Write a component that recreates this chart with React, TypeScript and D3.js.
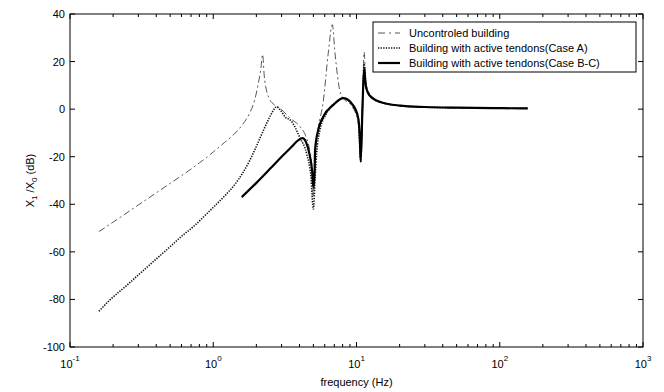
import React from "react";
import * as d3 from "d3";

const xTickExps = [-1, 0, 1, 2, 3];
const yTicks = [40, 20, 0, -20, -40, -60, -80, -100];
const legendLabels = [
  "Uncontroled building",
  "Building with active tendons(Case A)",
  "Building with active tendons(Case B-C)",
];

const uncontrolledFreq = [0.159, 0.2, 0.3, 0.4, 0.5, 0.6, 0.7, 0.8, 0.9, 1.0, 1.2, 1.4, 1.6, 1.8, 1.95, 2.05, 2.15, 2.21, 2.27, 2.35, 2.45, 2.65, 2.92, 3.44, 4.04, 4.4, 4.7, 4.9, 5.0, 5.1, 5.25, 5.41, 5.86, 6.35, 6.78, 7.08, 7.67, 8.1, 9.2, 10.2, 10.5, 10.7, 11.0, 11.3, 11.6, 12, 13, 15, 20, 30, 50, 100, 157];
const uncontrolledDb = [-51.5, -47.5, -40.3, -35.2, -31.2, -28, -25.2, -22.6, -20.3, -18, -14, -10.5, -6.5, -1.5, 4, 10, 17, 23, 14, 8, 4.6, 2, 0.4, -3.8, -7.4, -11, -17, -26, -37, -25, -14, -8, 3.2, 23.5, 35.5, 23.5, 7.4, 4.6, 1.5, -4.5, -13, -22, 0, 24, 12, 8, 5, 3, 1.5, 0.9, 0.6, 0.4, 0.3];

const caseAFreq = [0.159, 0.19, 0.25, 0.3, 0.4, 0.5, 0.6, 0.726, 0.9, 1.0, 1.2, 1.4, 1.6, 1.8, 1.95, 2.2, 2.4, 2.6, 2.77, 2.95, 3.2, 3.44, 4.04, 4.5, 4.8, 5.0, 5.15, 5.27, 5.56, 6.2, 7.28, 8.1, 9.5, 10.3, 10.5, 10.7, 11.0, 11.3, 11.6, 12, 13, 15, 20, 30, 50, 100, 157];
const caseADb = [-85, -80.2, -74, -69.7, -63, -57.8, -53.5, -49.4, -44, -41.3, -36.5, -32, -27, -21.5, -17.1, -10, -5, -1, 1, -0.5, -3.5, -4.5, -12.2, -19, -28, -42, -28, -18.5, -8.7, -1.7, 3.2, 4.6, 1, -4.5, -14, -22, 0, 19, 11, 7, 4.5, 2.8, 1.5, 0.9, 0.6, 0.4, 0.3];

const caseBCFreq = [1.58, 2.0, 2.5, 3.0, 3.5, 3.93, 4.2, 4.45, 4.7, 4.9, 5.0, 5.1, 5.14, 5.41, 5.86, 6.89, 8.1, 9.5, 10.3, 10.55, 10.7, 11.0, 11.3, 11.6, 12, 13, 15, 20, 30, 50, 100, 157];
const caseBCDb = [-37, -31, -25, -20, -16, -13, -12.2, -14, -19, -26, -33, -26, -17, -8.7, -3.2, 1.8, 4.6, 1.5, -4, -12, -22, 0, 17, 10, 7, 4.5, 2.8, 1.5, 0.9, 0.6, 0.4, 0.3];

const W = 664;
const H = 392;
const L = 70, R = 643, T = 14, B = 347;

export default function App() {
  const x = d3.scaleLog().domain([0.1, 1000]).range([L, R]);
  const y = d3.scaleLinear().domain([-100, 40]).range([B, T]);
  const line = d3
    .line<[number, number]>()
    .x((d) => x(d[0]))
    .y((d) => y(d[1]))
    .curve(d3.curveMonotoneX);

  const zip = (f: number[], v: number[]) => f.map((fi, i) => [fi, v[i]] as [number, number]);

  const minor: number[] = [];
  for (let e = -1; e < 3; e++) {
    for (let k = 2; k <= 9; k++) minor.push(k * Math.pow(10, e));
  }

  const font = "'Liberation Sans', Arial, Helvetica, sans-serif";
  const styles = [
    { stroke: "#444", width: 0.9, dash: "7,3,2,3" },
    { stroke: "#111", width: 1.6, dash: "1.3,1.3" },
    { stroke: "#000", width: 2.2, dash: "" },
  ];
  const legendRows = [33, 48, 63];

  return (
    <svg
      width={W}
      height={H}
      style={{ position: "absolute", left: 0, top: 0, background: "#fff" }}
      fontFamily={font}
    >
      <rect x={0} y={0} width={W} height={H} fill="#fff" />
      {/* series */}
      <path d={line(zip(uncontrolledFreq, uncontrolledDb)) || ""} fill="none" stroke={styles[0].stroke} strokeWidth={styles[0].width} strokeDasharray={styles[0].dash} />
      <path d={line(zip(caseAFreq, caseADb)) || ""} fill="none" stroke={styles[1].stroke} strokeWidth={styles[1].width} strokeDasharray={styles[1].dash} />
      <path d={line(zip(caseBCFreq, caseBCDb)) || ""} fill="none" stroke={styles[2].stroke} strokeWidth={styles[2].width} />

      {/* frame */}
      <rect x={L} y={T} width={R - L} height={B - T} fill="none" stroke="#000" strokeWidth={1} />
      {/* x ticks */}
      {xTickExps.map((e) => {
        const px = x(Math.pow(10, e));
        return (
          <g key={"xt" + e}>
            <line x1={px} x2={px} y1={B} y2={B - 5} stroke="#000" />
            <line x1={px} x2={px} y1={T} y2={T + 5} stroke="#000" />
            <text x={px} y={368} fontSize={11} textAnchor="middle" fill="#000">
              10
              <tspan dy={-7} fontSize={8}>{e}</tspan>
            </text>
          </g>
        );
      })}
      {minor.map((m, i) => {
        const px = x(m);
        return (
          <g key={"mn" + i}>
            <line x1={px} x2={px} y1={B} y2={B - 3} stroke="#000" />
            <line x1={px} x2={px} y1={T} y2={T + 3} stroke="#000" />
          </g>
        );
      })}
      {/* y ticks */}
      {yTicks.map((t) => {
        const py = y(t);
        return (
          <g key={"yt" + t}>
            <line x1={L} x2={L + 5} y1={py} y2={py} stroke="#000" />
            <line x1={R} x2={R - 5} y1={py} y2={py} stroke="#000" />
            <text x={65} y={py + 4} fontSize={11} textAnchor="end" fill="#000">
              {t}
            </text>
          </g>
        );
      })}
      {/* axis labels */}
      <text x={(L + R) / 2} y={386} fontSize={11} textAnchor="middle" fill="#000">
        frequency (Hz)
      </text>
      <text transform={`translate(34,${(T + B) / 2}) rotate(-90)`} fontSize={11} textAnchor="middle" fill="#000">
        X<tspan dy={3} fontSize={8}>1</tspan>
        <tspan dy={-3}> /X</tspan>
        <tspan dy={3} fontSize={8}>0</tspan>
        <tspan dy={-3}> (dB)</tspan>
      </text>

      {/* legend */}
      <rect x={373} y={22} width={263} height={50} fill="#fff" stroke="#000" strokeWidth={1} />
      {legendLabels.map((lab, i) => (
        <g key={"lg" + i}>
          <line x1={378} x2={400} y1={legendRows[i]} y2={legendRows[i]} stroke={styles[i].stroke} strokeWidth={styles[i].width} strokeDasharray={i === 0 ? "7,4,2,4" : styles[i].dash} />
          <text x={409} y={legendRows[i] + 4} fontSize={11} fill="#000">
            {lab}
          </text>
        </g>
      ))}
    </svg>
  );
}
